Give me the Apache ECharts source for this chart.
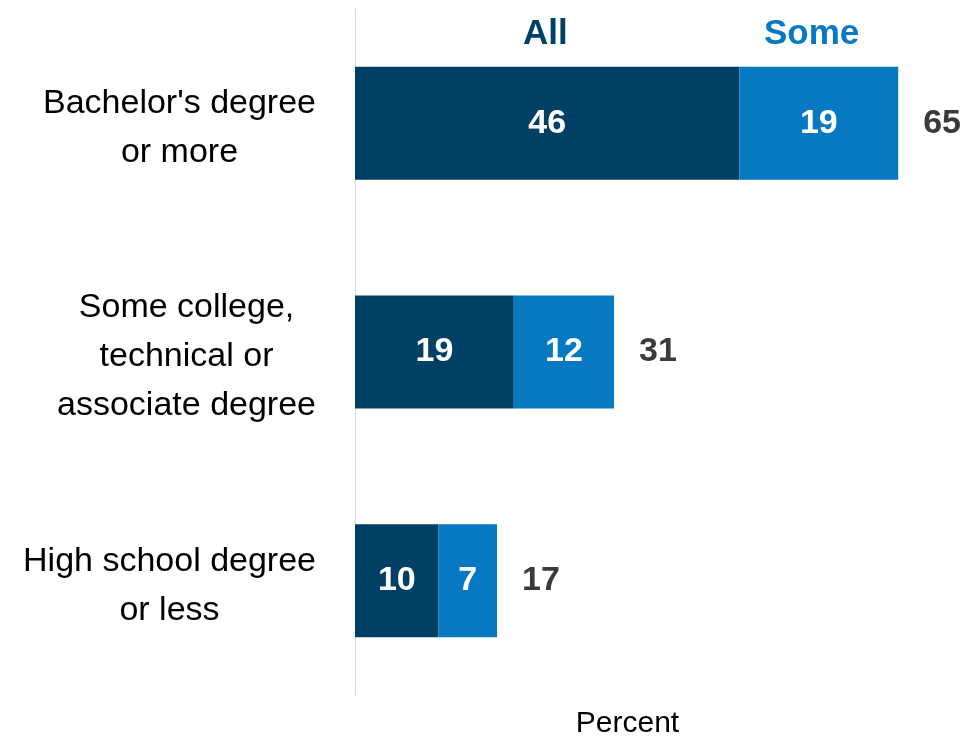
<!DOCTYPE html>
<html>
<head>
<meta charset="utf-8">
<script src="https://cdn.jsdelivr.net/npm/echarts@6/dist/echarts.min.js"></script>
<style>
  html, body { margin: 0; padding: 0; background: #ffffff; }
  #chart { width: 974px; height: 739px; }
</style>
</head>
<body>
<div id="chart"></div>
<script>
// Education levels, top to bottom
const categories = [
  "Bachelor's degree\nor more",
  "Some college,\ntechnical or\nassociate degree",
  "High school degree\nor less"
];
const allValues = [46, 19, 10];
const someValues = [19, 12, 7];
const totalValues = allValues.map((v, i) => v + someValues[i]);

const NAVY = '#003f66';
const BLUE = '#0679c2';
const TXT_FONT = "'Liberation Sans', Arial, sans-serif";

const chart = echarts.init(document.getElementById('chart'), null, { renderer: 'canvas' });

const numLabel = {
  show: true,
  position: 'inside',
  color: '#ffffff',
  fontFamily: TXT_FONT,
  fontWeight: 'bold',
  fontSize: 34
};

chart.setOption({
  animation: false,
  backgroundColor: '#ffffff',
  legend: [
    {
      data: [{ name: 'All', textStyle: { color: NAVY } }],
      left: 513, top: 12,
      itemWidth: 0, itemHeight: 0, selectedMode: false,
      textStyle: { fontFamily: TXT_FONT, fontWeight: 'bold', fontSize: 35 }
    },
    {
      data: [{ name: 'Some', textStyle: { color: BLUE } }],
      left: 754, top: 12,
      itemWidth: 0, itemHeight: 0, selectedMode: false,
      textStyle: { fontFamily: TXT_FONT, fontWeight: 'bold', fontSize: 35 }
    }
  ],
  grid: {
    left: 355, right: 34, top: 9, bottom: 44,
    containLabel: false,
    outerBoundsMode: 'none'
  },
  xAxis: {
    type: 'value',
    min: 0,
    max: 70,
    name: 'Percent',
    nameLocation: 'middle',
    nameGap: 14,
    nameTextStyle: {
      fontFamily: TXT_FONT, fontSize: 30, color: '#000000',
      verticalAlign: 'top', padding: [0, 40, 0, 0]
    },
    axisLine: { show: false },
    axisTick: { show: false },
    axisLabel: { show: false },
    splitLine: { show: false }
  },
  yAxis: {
    type: 'category',
    inverse: true,
    data: categories,
    axisLine: { show: true, lineStyle: { color: '#d9d9d9', width: 1 } },
    axisTick: { show: false },
    axisLabel: {
      margin: 39,
      padding: [10, 0, 0, 0],
      formatter: (v) => v.split('\n').map(s => '{c|' + s + '}').join('\n'),
      rich: {
        c: {
          align: 'center',
          fontFamily: TXT_FONT,
          fontSize: 34,
          lineHeight: 49,
          color: '#000000'
        }
      }
    }
  },
  series: [
    {
      name: 'All',
      type: 'bar',
      stack: 'edu',
      barWidth: 113,
      itemStyle: { color: NAVY },
      label: numLabel,
      data: allValues
    },
    {
      name: 'Some',
      type: 'bar',
      stack: 'edu',
      barWidth: 113,
      itemStyle: { color: BLUE },
      label: numLabel,
      data: someValues
    },
    {
      name: 'Total',
      type: 'scatter',
      symbolSize: 0,
      silent: true,
      itemStyle: { opacity: 1 },
      label: {
        show: true,
        position: 'right',
        distance: 25,
        color: '#3a3a3a',
        fontFamily: TXT_FONT,
        fontWeight: 'bold',
        fontSize: 34,
        formatter: (p) => String(p.value[0])
      },
      data: totalValues.map((t, i) => [t, i])
    }
  ]
});
</script>
</body>
</html>
